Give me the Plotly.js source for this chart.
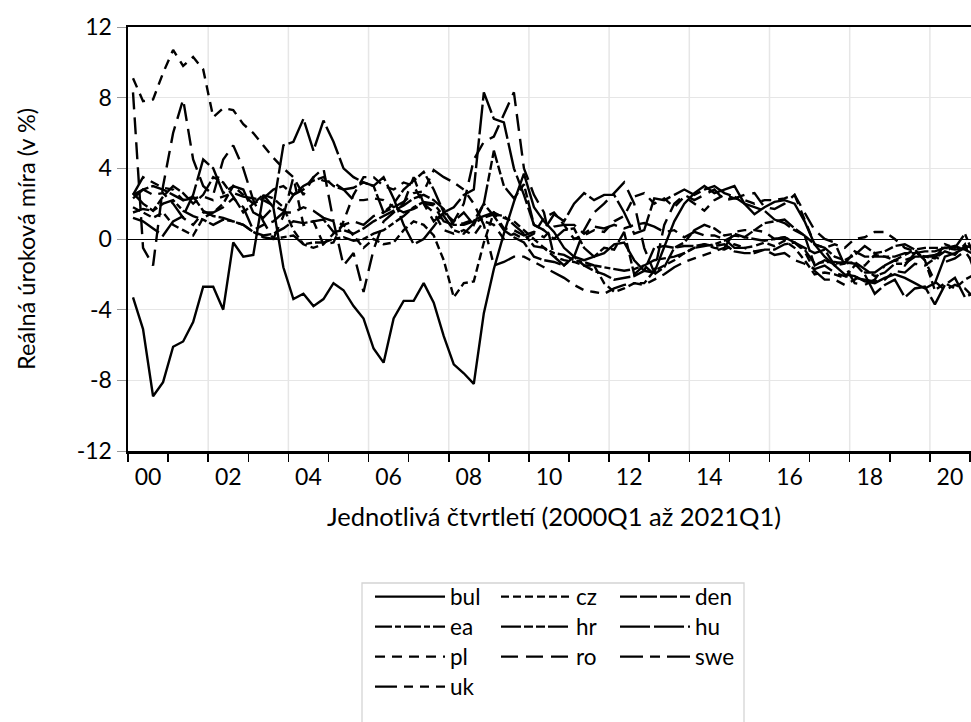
<!DOCTYPE html>
<html>
<head>
<meta charset="utf-8">
<script src="https://cdn.plot.ly/plotly-3.0.1.min.js"></script>
<style>
html,body{margin:0;padding:0;overflow:hidden;background:#fff;width:971px;height:722px;}
#chart{width:980px;height:722px;}
</style>
</head>
<body>
<div id="chart"></div>
<script>
// Quarterly data 2000Q1 .. 2021Q1 (85 quarters), real interest rate in %
const startYear = 2000;
const nQuarters = 85;

const bul = [-3.3,-5.1,-8.9,-8.1, -6.1,-5.8,-4.7,-2.7, -2.7,-4.0,-0.2,-1.0, -0.9,2.5,1.8,-1.6,
 -3.4,-3.1,-3.8,-3.4, -2.5,-2.9,-3.8,-4.5, -6.2,-7.0,-4.5,-3.5, -3.5,-2.5,-3.6,-5.5,
 -7.1,-7.6,-8.2,-4.2, -1.7,0.3,2.1,3.7, 1.8,1.0,0.4,-0.5, -1.0,-1.2,-1.0,-0.8,
 -0.3,-0.2,-1.2,-1.8, -1.9,-0.5,1.0,2.0, 2.6,3.0,2.6,2.8, 3.0,2.0,1.4,1.8,
 2.1,2.2,2.0,1.0, -0.3,-1.0,-1.5,-2.0, -2.1,-2.4,-2.5,-2.2, -2.0,-2.2,-2.5,-2.8,
 -2.5,-1.0,-0.8,-0.5, -0.3];
const cz = [1.8,1.5,1.2,1.5, 0.8,0.5,0.2,1.2, 1.5,2.0,3.0,2.5, 2.0,2.5,2.3,1.8,
 0.5,-0.3,-0.5,-0.3, 0.3,0.8,0.2,-0.5, 0.0,-0.3,-0.2,0.5, 1.0,0.8,0.2,-1.2,
 -3.3,-2.5,-2.4,-0.2, 1.5,1.2,1.0,0.5, 0.0,-0.5,-1.0,-1.2, -1.3,-1.5,-1.5,-2.5,
 -3.0,-2.8,-2.5,-2.5, -1.8,-1.5,-1.2,-0.8, -0.5,-0.3,-0.5,-0.6, -0.3,-0.5,-0.4,-0.2,
 -0.4,-0.1,-0.5,-1.2, -2.0,-1.9,-2.0,-2.2, -1.5,-1.5,-0.9,-1.0, -1.2,-0.9,-0.6,-1.2,
 -2.9,-2.5,-2.8,-2.3, -2.0];
const den = [2.5,2.8,3.0,2.8, 2.5,2.2,2.4,1.6, 1.3,1.2,1.0,0.8, 0.4,0.2,0.3,0.6,
 1.0,0.9,1.0,1.1, 0.4,0.5,0.3,0.6, 1.0,1.3,1.6,1.9, 2.3,2.5,2.2,1.7,
 0.8,0.8,1.0,2.0, 1.3,0.5,0.1,-0.2, -1.0,-1.2,-1.3,-1.5, -1.0,-1.5,-1.8,-2.0,
 -2.3,-2.2,-2.1,-1.8, -0.5,-0.4,-0.5,-0.4, -0.4,-0.3,-0.4,-0.3, -0.7,-0.8,-0.8,-0.6,
 -0.6,-0.3,-0.2,-0.5, -0.8,-0.6,-1.5,-1.4, -0.7,-1.0,-1.0,-1.0, -1.0,-0.8,-0.8,-0.7,
 -0.7,-0.5,-0.6,-0.5, -0.6];
const ea = [1.5,1.7,1.6,2.0, 2.2,1.6,1.3,1.1, 0.8,1.1,1.0,0.8, 0.4,0.1,0.0,0.1,
 0.2,-0.3,-0.2,-0.2, 0.0,0.1,-0.1,0.0, 0.3,0.5,0.9,1.3, 1.8,2.1,2.0,1.3,
 0.5,0.3,0.9,1.2, 1.4,1.3,0.8,0.3, -0.4,-0.5,-0.8,-0.9, -1.2,-1.3,-1.5,-1.6,
 -1.7,-1.8,-1.7,-1.5, -1.2,-1.1,-1.0,-0.8, -0.5,-0.4,-0.3,-0.1, 0.2,0.1,0.0,-0.1,
 0.0,0.1,-0.2,-0.6, -1.4,-1.3,-1.3,-1.4, -1.3,-1.7,-2.1,-1.9, -1.4,-1.4,-1.0,-1.0,
 -1.1,-0.3,-0.5,0.3, -1.1];
const hr = [2.6,2.0,1.6,2.4, 3.0,2.6,2.0,2.5, 3.5,3.2,2.4,1.5, 2.0,2.3,2.8,3.0,
 2.5,3.0,3.3,3.5, 3.0,2.8,2.9,3.2, 3.0,1.5,2.0,2.8, 3.3,3.8,2.8,1.5,
 1.0,1.5,0.8,2.0, 5.0,3.0,2.3,3.1, 0.8,0.5,0.0,0.5, 0.6,-0.5,-1.0,-0.5,
 -0.6,0.4,-2.0,-1.5, -2.0,-1.6,-0.5,-0.2, 0.5,0.8,0.6,0.2, 0.3,0.1,0.5,0.9,
 1.0,1.1,0.6,0.2, -0.3,-0.5,-1.0,-1.2, -0.9,-0.4,-0.8,-0.7, -0.4,-0.3,-0.6,-0.5,
 -0.5,-0.5,-0.4,-0.6, -0.9];
const hu = [1.2,1.0,0.6,0.2, 1.0,1.3,2.5,4.5, 4.0,2.6,3.0,2.8, 1.5,1.2,1.8,5.3,
 5.5,6.8,5.0,6.7, 5.5,4.0,3.5,3.2, 3.0,3.5,2.3,0.8, -0.3,0.0,0.7,1.5,
 1.8,2.5,2.8,8.3, 6.8,6.6,4.0,2.5, 0.8,0.5,1.4,1.0, 2.0,2.6,2.2,2.5,
 2.5,1.5,0.3,0.5, 2.3,2.2,2.5,2.8, 2.5,2.8,3.0,2.6, 2.4,2.0,1.8,1.6,
 1.1,0.9,0.5,0.2, -1.5,-1.2,-1.4,-1.3, -1.4,-2.0,-3.1,-2.6, -2.3,-3.3,-2.8,-2.7,
 -3.7,-2.6,-2.2,-3.3, -3.0];
const pl = [9.1,7.8,7.9,9.4, 10.7,9.8,10.3,9.6, 6.9,7.4,7.3,6.5, 6.0,5.3,4.6,4.0,
 3.5,0.8,1.0,-0.3, -0.2,1.0,2.5,3.5, 3.5,3.0,2.8,3.2, 3.0,2.0,1.5,0.5,
 0.3,0.5,0.2,1.0, 0.8,0.0,0.3,0.0, 0.3,1.2,1.5,0.8, 0.0,0.2,0.5,0.4,
 1.0,1.3,2.4,2.6, 2.0,2.3,1.8,2.4, 2.0,1.6,2.2,2.5, 2.3,2.2,2.0,2.2,
 2.2,2.3,2.5,1.1, -0.3,-0.5,-0.3,-0.5, 0.0,0.1,0.4,0.4, 0.0,-0.5,-0.7,-1.2,
 -2.4,-2.9,-2.6,-2.8, -3.4];
const ro = [8.3,-0.5,-1.5,3.0, 6.0,7.9,4.5,3.0, 2.5,4.5,5.3,4.0, 2.2,1.0,0.0,1.3,
 3.5,2.5,3.5,4.0, 1.0,-1.5,-0.8,-3.0, -0.6,1.0,1.5,2.0, 3.5,2.0,1.0,1.5,
 1.0,2.0,4.5,5.5, 5.8,7.0,8.3,4.0, 2.5,1.5,-1.0,-1.5, -1.0,0.5,1.5,2.0,
 2.6,3.2,2.0,-0.5, -1.9,0.8,2.0,2.5, 2.2,2.5,2.8,2.2, 2.3,2.5,2.6,1.8,
 1.7,2.0,2.5,1.5, 0.5,0.0,-0.2,-1.5, -2.5,-2.6,-2.3,-1.5, -1.2,-1.5,-0.8,-1.0,
 -1.0,-1.3,-1.1,-0.7, -1.5];
const swe = [2.3,2.8,2.5,2.6, 2.0,1.2,0.8,1.5, 1.5,1.8,2.3,1.8, 0.5,0.8,1.0,1.5,
 1.5,1.8,1.6,1.2, 1.0,0.8,1.0,0.8, 1.3,1.5,1.8,1.5, 1.7,2.0,1.9,1.0,
 0.8,0.9,1.1,1.3, 1.5,0.6,0.5,0.2, 0.4,0.1,0.7,0.8, 0.8,0.3,0.7,0.6,
 0.8,0.6,0.8,0.9, 0.7,0.4,0.5,0.1, 0.4,0.2,0.2,0.0, -0.5,-0.5,-0.7,-0.6,
 -0.9,-0.8,-1.2,-1.4, -1.7,-1.5,-1.9,-2.1, -2.2,-2.3,-2.4,-2.3, -1.8,-1.9,-1.4,-1.5,
 -1.1,-0.7,-0.9,-0.3, -1.9];
const uk = [2.5,3.5,3.2,2.9, 2.8,2.2,2.3,2.4, 2.2,2.4,2.6,2.4, 2.3,2.2,1.9,1.6,
 2.5,2.8,3.5,3.3, 3.2,2.8,2.2,2.2, 2.3,2.2,1.8,2.1, 2.6,2.7,3.9,3.5,
 3.2,2.8,2.0,0.8, -1.5,-1.3,-1.0,-1.0, -1.3,-1.6,-1.9,-2.2, -2.6,-2.9,-3.0,-3.1,
 -2.8,-2.6,-2.5,-2.6, -2.3,-2.0,-1.6,-1.3, -1.1,-0.9,-0.7,-0.5, 0.4,0.5,0.5,0.4,
 0.0,0.1,-0.2,-0.7, -1.8,-2.3,-2.3,-2.6, -2.3,-1.9,-1.9,-1.5, -1.2,-1.2,-1.0,-1.0,
 -0.9,-0.7,-0.4,-0.4, -0.5];

const seriesNames = ['bul','cz','den','ea','hr','hu','pl','ro','swe','uk'];
const seriesData  = [bul, cz, den, ea, hr, hu, pl, ro, swe, uk];
const yTickVals = [-12,-8,-4,0,4,8,12];
const yTickText = ['-12','-8','-4','0','4','8','12'];
const xTickYears = [2000,2002,2004,2006,2008,2010,2012,2014,2016,2018,2020];
const xTickText  = ['00','02','04','06','08','10','12','14','16','18','20'];

// ---- styling ----
const dashes = {
  bul:'solid', cz:'8px,4px', den:'17px,3px', ea:'17px,3px,6px,3px',
  hr:'20px,3px,9px,3px,9px,3px', hu:'30px,4px', pl:'10px,7px',
  ro:'17px,8px', swe:'23px,7px,10px,7px', uk:'22px,7px,9px,7px,9px,7px'
};
const legendOf = {bul:'legend',cz:'legend',den:'legend',ea:'legend2',hr:'legend2',hu:'legend2',
  pl:'legend3',ro:'legend3',swe:'legend3',uk:'legend4'};
const colIdx = {bul:0,cz:1,den:2,ea:0,hr:1,hu:2,pl:0,ro:1,swe:2,uk:0};
const colWidths = [41,34,40];

const xq = [];
for (let i = 0; i < nQuarters; i++) xq.push(startYear + i/4 + 0.125);

const traces = seriesNames.map((name, k) => ({
  type:'scatter', mode:'lines', name:name,
  x:xq, y:seriesData[k],
  line:{color:'#000', width:2.4, dash:dashes[name]},
  legend:legendOf[name],
  legendwidth:colWidths[colIdx[name]],
  hoverinfo:'skip'
}));

const FAM = 'Lato, "Open Sans", sans-serif';
const tickFont = {family:FAM, size:23, color:'#000'};
const legFont = {family:FAM, size:22.5, color:'#000'};
const plotL = 128, plotT = 27, plotB = 451, plotW = 852, plotH = 424;
const px2x = p => (p - plotL)/plotW;
const px2y = p => (plotB - p)/plotH;

const shapes = [];
for (let yr = 2002; yr <= 2020; yr += 2) {
  shapes.push({type:'line', xref:'x', yref:'y', x0:yr, x1:yr, y0:-12, y1:12,
    line:{color:'#e6e6e6', width:1.5}, layer:'below'});
}
shapes.push({type:'rect', xref:'paper', yref:'paper',
  x0:px2x(362), x1:px2x(744), y0:px2y(583), y1:px2y(760),
  line:{color:'#d4d4d4', width:1.3}, fillcolor:'rgba(0,0,0,0)', layer:'above'});

function legendRow(py){
  return {orientation:'h', x:px2x(370), xanchor:'left', y:px2y(py), yanchor:'middle',
    font:legFont, bgcolor:'rgba(0,0,0,0)', borderwidth:0, itemwidth:70,
    entrywidthmode:'pixels', itemclick:false, itemdoubleclick:false, tracegroupgap:0};
}

const layout = {
  width:980, height:722,
  margin:{l:plotL, r:0, t:plotT, b:722-plotB, autoexpand:false},
  paper_bgcolor:'#fff', plot_bgcolor:'#fff',
  font:tickFont,
  showlegend:true,
  legend:legendRow(597), legend2:legendRow(627), legend3:legendRow(657), legend4:legendRow(687),
  xaxis:{
    range:[2000, 2021.25], tickmode:'array',
    tickvals:xTickYears.map(y => y + 0.5), ticktext:xTickText,
    ticks:'', showgrid:false, zeroline:false,
    showline:true, linecolor:'#000', linewidth:2.5, mirror:true,
    ticklabelstandoff:4, tickfont:tickFont,
    minor:{tickmode:'array', tickvals:Array.from({length:22},(_,i)=>2000+i),
      ticks:'outside', ticklen:8, tickwidth:1.5, tickcolor:'#000', showgrid:false},
    title:{text:'Jednotlivá čtvrtletí (2000Q1 až 2021Q1)', font:{family:FAM, size:25.5, color:'#000'}, standoff:19}
  },
  yaxis:{
    range:[-12,12], tickmode:'array', tickvals:yTickVals, ticktext:yTickText,
    ticks:'outside', ticklen:9, tickwidth:1, tickcolor:'#999',
    showgrid:true, gridcolor:'#e6e6e6', gridwidth:1.5,
    zeroline:true, zerolinecolor:'#000', zerolinewidth:1,
    showline:true, linecolor:'#000', linewidth:2.5, mirror:true,
    tickfont:tickFont,
    title:{text:'Reálná úroková míra (v %)', font:{family:FAM, size:23.5, color:'#000'}, standoff:35}
  },
  shapes:shapes
};

Plotly.newPlot('chart', traces, layout, {staticPlot:true, displayModeBar:false});
</script>
</body>
</html>
